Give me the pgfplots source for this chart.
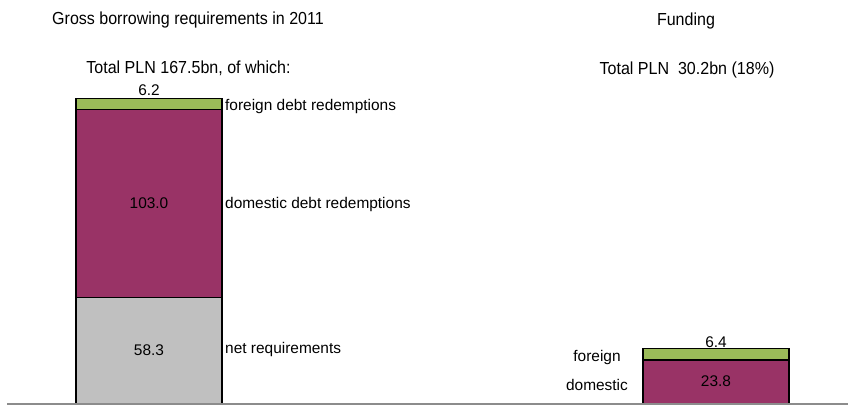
\documentclass[border=0pt]{standalone}
\usepackage{pgfplots}
\pgfplotsset{compat=1.18}
\usepackage{fontspec}
\setmainfont{Liberation Sans}
\newfontfamily\narrowfont[FakeStretch=0.92]{Liberation Sans}
\definecolor{cgreen}{HTML}{9BBB59}
\definecolor{cpurple}{HTML}{993366}
\definecolor{cgray}{HTML}{C0C0C0}
\definecolor{cline}{HTML}{8C8C8C}
\newcommand{\lab}{\fontsize{15.5}{18}\selectfont}
\newcommand{\tit}{\narrowfont\fontsize{17.5}{20}\selectfont}
\begin{document}
\begin{tikzpicture}
\begin{axis}[
  scale only axis,
  width=848bp, height=405bp,
  xmin=0, xmax=848,
  ymin=-0.82, ymax=221.5,
  axis lines=none,
  ticks=none,
  clip=false,
  ybar stacked,
  bar width=146,
  every axis plot/.append style={draw=black, line width=1.6bp},
]
\addplot[fill=cgray, draw=black] coordinates {(149,58.3) (716,0)};
\addplot[fill=cpurple, draw=black] coordinates {(149,103.0) (716,23.8)};
\addplot[fill=cgreen, draw=black] coordinates {(149,6.2) (716,6.4)};

\coordinate (L1) at (axis cs:7,-0.3);
\coordinate (L2) at (axis cs:848,-0.3);
\coordinate (T1) at (axis cs:188,208.3);
\coordinate (T2) at (axis cs:188.5,181.4);
\coordinate (T3) at (axis cs:686,207.7);
\coordinate (T4) at (axis cs:687,180.8);
\coordinate (V1) at (axis cs:149,169.3);
\coordinate (V2) at (axis cs:149,107.3);
\coordinate (V3) at (axis cs:149,26.1);
\coordinate (V4) at (axis cs:716,31.0);
\coordinate (V5) at (axis cs:716,9.6);
\coordinate (C1) at (axis cs:225,160.7);
\coordinate (C2) at (axis cs:225,107.3);
\coordinate (C3) at (axis cs:225,27.2);
\coordinate (C4) at (axis cs:597,22.8);
\coordinate (C5) at (axis cs:597,7.4);
\end{axis}

\draw[cline, line width=1.3bp] (L1) -- (L2);

% titles
\node[anchor=base, font=\tit] at (T1) {Gross borrowing requirements in 2011};
\node[anchor=base, font=\tit] at (T2) {Total PLN 167.5bn, of which:};
\node[anchor=base, font=\tit] at (T3) {Funding};
\node[anchor=base, font=\tit] at (T4) {Total PLN\ \ 30.2bn (18\%)};

% value labels
\node[anchor=base, font=\lab, inner sep=0pt] at (V1) {6.2};
\node[anchor=base, font=\lab, inner sep=0pt] at (V2) {103.0};
\node[anchor=base, font=\lab, inner sep=0pt] at (V3) {58.3};
\node[anchor=base, font=\lab, inner sep=0pt] at (V4) {6.4};
\node[anchor=base, font=\lab, inner sep=0pt] at (V5) {23.8};

% category labels
\node[anchor=base west, font=\lab, inner sep=0pt] at (C1) {foreign debt redemptions};
\node[anchor=base west, font=\lab, inner sep=0pt] at (C2) {domestic debt redemptions};
\node[anchor=base west, font=\lab, inner sep=0pt] at (C3) {net requirements};
\node[anchor=base, font=\lab, inner sep=0pt] at (C4) {foreign};
\node[anchor=base, font=\lab, inner sep=0pt] at (C5) {domestic};

\pgfresetboundingbox
\useasboundingbox (current axis.south west) rectangle (current axis.north east);
\end{tikzpicture}
\end{document}
